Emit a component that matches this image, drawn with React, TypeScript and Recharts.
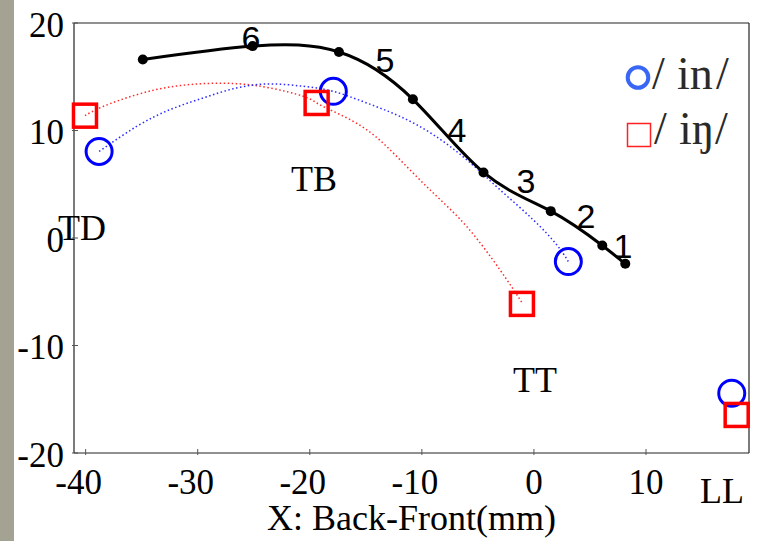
import React from "react";
import { ComposedChart, Line, Scatter, XAxis, YAxis } from "recharts";

// tongue sensor contour (solid black)
const tongueX = [-34.9, -25.1, -17.4, -10.8, -4.5, 1.5, 6.1, 8.15];
const tongueY = [16.6, 17.85, 17.3, 12.9, 6.1, 2.5, -0.7, -2.4];

// dotted fitted contours
const inCurveX = [-38.8, -35.45, -32.48, -29.51, -26.53, -23.55, -20.58, -17.9, -14.92, -11.95, -8.98, -6.0, -3.03, -0.06, 2.03, 3.07];
const inCurveY = [8.05, 10.38, 11.94, 13.03, 13.96, 14.33, 14.11, 13.64, 12.56, 11.31, 9.61, 7.28, 4.49, 1.69, -0.63, -2.19];
const ingCurveX = [-40.06, -38.43, -35.45, -32.48, -29.51, -26.53, -23.55, -20.58, -19.39, -17.9, -14.92, -11.95, -8.98, -6.0, -3.03, -1.07];
const ingCurveY = [11.38, 12.24, 13.33, 14.05, 14.36, 14.36, 13.96, 13.18, 12.56, 11.78, 10.07, 7.28, 4.18, 1.07, -2.96, -6.0];

// sensor markers (TD, TB, TT, LL)
const inMarkX = [-38.8, -17.9, 3.07, 17.65];
const inMarkY = [8.05, 13.64, -2.19, -14.44];
const ingMarkX = [-40.06, -19.39, -1.07, 18.09];
const ingMarkY = [11.38, 12.56, -6.13, -16.46];

const xTicks = [-40, -30, -20, -10, 0, 10];
const yTicks = [-20, -10, 0, 10, 20];
const legendNames = [["/", "in", "/"], ["/", "iŋ", "/"]];

const zip = (xs: number[], ys: number[]) => xs.map((x, i) => ({ x, y: ys[i] }));
const tongue = zip(tongueX, tongueY);
const inCurve = zip(inCurveX, inCurveY);
const ingCurve = zip(ingCurveX, ingCurveY);
const inMarks = zip(inMarkX, inMarkY);
const ingMarks = zip(ingMarkX, ingMarkY);

const SERIF = "'Liberation Serif', 'Times New Roman', serif";
const SANS = "'Liberation Sans', Arial, sans-serif";
const TICK = "#555";
const AXIS = { stroke: "#222", strokeWidth: 1.2 };
const serifStyle = { fontFamily: SERIF };

const BottomTick = (p: any) => {
  const v = p.payload.value;
  return (
    <g>
      <line x1={p.x} y1={p.y} x2={p.x} y2={p.y - 6} stroke={TICK} />
      <text x={p.x} y={p.y + 38.5} dx={v < 0 ? -7 : 0} textAnchor="middle" style={serifStyle} fontSize={35} fill="#000">
        {v}
      </text>
    </g>
  );
};
const TopTick = (p: any) => <line x1={p.x} y1={p.y} x2={p.x} y2={p.y + 6} stroke={TICK} />;
const LeftTick = (p: any) => (
  <g>
    <line x1={p.x} y1={p.y} x2={p.x + 6} y2={p.y} stroke={TICK} />
    <text x={p.x - 8} y={p.y + 13.5} textAnchor="end" style={serifStyle} fontSize={35} fill="#000">
      {p.payload.value}
    </text>
  </g>
);
const RightTick = (p: any) => <line x1={p.x} y1={p.y} x2={p.x - 6} y2={p.y} stroke={TICK} />;

const circleShape = (p: any) => <circle cx={p.cx} cy={p.cy} r={13} fill="none" stroke="#0000ff" strokeWidth={3} />;
const squareShape = (p: any) => <rect x={p.cx - 11.5} y={p.cy - 11.5} width={23} height={23} fill="none" stroke="#ff0000" strokeWidth={3.5} />;
const dotShape = (p: any) => <circle key={p.index} cx={p.cx} cy={p.cy} r={5} fill="#000" />;

export default function App() {
  return (
    <div style={{ position: "absolute", left: 0, top: 0, width: 758, height: 541, background: "#fff", overflow: "hidden" }}>
      <div style={{ position: "absolute", left: 0, top: 0, width: 14, height: 541, background: "#a4a393" }} />
      <ComposedChart width={758} height={541} margin={{ top: 22, right: 8, bottom: 87, left: 73 }}>
        <XAxis type="number" dataKey="x" domain={[-41.04, 19.19]} ticks={xTicks} height={1} tickSize={0} tickLine={false} tick={BottomTick} axisLine={AXIS} />
        <XAxis xAxisId="top" orientation="top" type="number" dataKey="x" domain={[-41.04, 19.19]} ticks={xTicks} height={1} tickSize={0} tickLine={false} tick={TopTick} axisLine={AXIS} />
        <YAxis type="number" domain={[-20, 20]} ticks={yTicks} width={1} tickSize={0} tickLine={false} tick={LeftTick} axisLine={AXIS} />
        <YAxis yAxisId="right" orientation="right" type="number" domain={[-20, 20]} ticks={yTicks} width={1} tickSize={0} tickLine={false} tick={RightTick} axisLine={AXIS} />
        <Line data={ingCurve} dataKey="y" type="natural" stroke="#ff2a2a" strokeWidth={1.5} strokeDasharray="1.5 2.5" dot={false} isAnimationActive={false} />
        <Line data={inCurve} dataKey="y" type="natural" stroke="#2a2aff" strokeWidth={1.5} strokeDasharray="1.5 2.5" dot={false} isAnimationActive={false} />
        <Line data={tongue} dataKey="y" type="natural" stroke="#000" strokeWidth={3} dot={dotShape} isAnimationActive={false} />
        <Scatter data={inMarks} dataKey="y" shape={circleShape} isAnimationActive={false} />
        <Scatter data={ingMarks} dataKey="y" shape={squareShape} isAnimationActive={false} />
      </ComposedChart>
      <svg width={758} height={541} style={{ position: "absolute", left: 0, top: 0, pointerEvents: "none" }}>
        <g style={{ fontFamily: SANS }} fontSize={34} fill="#000" textAnchor="middle">
          <text x={623} y={258}>1</text>
          <text x={586} y={228}>2</text>
          <text x={526} y={193}>3</text>
          <text x={457} y={142}>4</text>
          <text x={385} y={72}>5</text>
          <text x={251} y={50}>6</text>
        </g>
        <g style={serifStyle} fontSize={36} fill="#000">
          <text x={58} y={240}>TD</text>
          <text x={291} y={191}>TB</text>
          <text x={513} y={392}>TT</text>
          <text x={700} y={503}>LL</text>
          <text x={411.5} y={530} textAnchor="middle">X: Back-Front(mm)</text>
        </g>
        <g style={serifStyle} fontSize={46} fill="#2a2a2a">
          <circle cx={638} cy={77.5} r={10.3} fill="none" stroke="#3a66f5" strokeWidth={4} />
          <text y={89}>
            <tspan x={652}>{legendNames[0][0]}</tspan>
            <tspan x={677}>{legendNames[0][1]}</tspan>
            <tspan x={716}>{legendNames[0][2]}</tspan>
          </text>
          <rect x={627.5} y={123.5} width={23} height={23} fill="none" stroke="#ff2020" strokeWidth={1.5} />
          <text y={144}>
            <tspan x={654}>{legendNames[1][0]}</tspan>
            <tspan x={679}>{legendNames[1][1]}</tspan>
            <tspan x={715}>{legendNames[1][2]}</tspan>
          </text>
        </g>
      </svg>
    </div>
  );
}
